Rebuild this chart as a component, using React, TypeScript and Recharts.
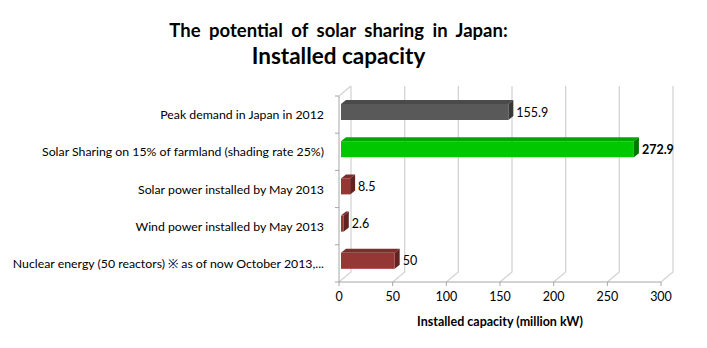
import { BarChart, Bar, XAxis, YAxis, CartesianGrid, Cell, LabelList } from "recharts";

// Installed capacity, million kW
const CATEGORIES = [
  "Peak demand in Japan in 2012",
  "Solar Sharing on 15% of farmland (shading rate 25%)",
  "Solar power installed by May 2013",
  "Wind power installed by May 2013",
  "Nuclear energy (50 reactors) ※ as of now October 2013,...",
];
const VALUES = [155.9, 272.9, 8.5, 2.6, 50];
const X_TICKS = [0, 50, 100, 150, 200, 250, 300];

const TITLE_1 = "The potential of solar sharing in Japan:";
const TITLE_2 = "Installed capacity";
const X_TITLE = "Installed capacity (million kW)";

// which bar gets the bold label
const HIGHLIGHT = 1;

const FONT = "Lato, 'Liberation Sans', sans-serif";

const PALETTE = [
  { front: "#595959", top: "#4a4a4a", side: "#383838" },
  { front: "#00c800", top: "#00a800", side: "#007800" },
  { front: "#953735", top: "#7d2d2b", side: "#612220" },
  { front: "#953735", top: "#7d2d2b", side: "#612220" },
  { front: "#953735", top: "#7d2d2b", side: "#612220" },
];

const data = CATEGORIES.map((name, i) => ({ name, value: VALUES[i] }));

// fake 3D: small offset for the front face, plus top and side faces
const SHIFT_X = 2;
const SHIFT_Y = -3;
const DEPTH_X = 5;
const DEPTH_Y = 4;

function Bar3D(props: any) {
  const { x, y, width, height, index } = props;
  const c = PALETTE[index] ?? PALETTE[0];
  const fx = x + SHIFT_X;
  const fy = y + SHIFT_Y;
  const w = Math.max(width, 0);
  const top = `M${fx},${fy} L${fx + DEPTH_X},${fy - DEPTH_Y} L${fx + w + DEPTH_X},${fy - DEPTH_Y} L${fx + w},${fy} Z`;
  const side = `M${fx + w},${fy} L${fx + w + DEPTH_X},${fy - DEPTH_Y} L${fx + w + DEPTH_X},${fy + height - DEPTH_Y} L${fx + w},${fy + height} Z`;
  return (
    <g>
      <path d={top} fill={c.top} />
      <path d={side} fill={c.side} />
      <rect x={fx} y={fy} width={w} height={height} fill={c.front} />
    </g>
  );
}

function ValueLabel(props: any) {
  const { x, y, width, height, value, index } = props;
  return (
    <text
      x={x + width + SHIFT_X + 8}
      y={y + SHIFT_Y + height / 2}
      dominantBaseline="central"
      fontSize={12.5}
      fontFamily={FONT}
      fontWeight={index === HIGHLIGHT ? 700 : 400}
      fill="#000"
    >
      {value}
    </text>
  );
}

function CategoryTick(props: any) {
  const { x, y, payload } = props;
  return (
    <text x={x} y={y} textAnchor="end" dominantBaseline="central" fontSize={12.3} fontFamily={FONT} fill="#000">
      {payload.value}
    </text>
  );
}

// back-wall grid: slanted foot, then vertical
const WALL_DX = 12;
const WALL_DY = 10;

function WallLine(props: any) {
  const { x1, y1, y2, index } = props;
  const top = Math.min(y1, y2);
  const bottom = Math.max(y1, y2);
  let d = `M${x1},${bottom} L${x1 + WALL_DX},${bottom - WALL_DY} L${x1 + WALL_DX},${top - WALL_DY}`;
  if (index === 0) d += ` M${x1},${top} L${x1 + WALL_DX},${top - WALL_DY}`;
  return <path key={`v-${index}`} d={d} stroke="#d4d4d4" strokeWidth={1.3} fill="none" />;
}

function BoundaryTick(props: any) {
  const { x1, y1, index } = props;
  return <path key={`h-${index}`} d={`M${x1 - 4},${y1} L${x1},${y1}`} stroke="#a6a6a6" strokeWidth={1} />;
}

export default function App() {
  return (
    <div
      style={{
        position: "relative",
        margin: -8,
        width: 705,
        height: 345,
        boxSizing: "border-box",
        border: "1px solid #8a8a8a",
        background: "#fff",
        fontFamily: FONT,
      }}
    >
      <div
        style={{
          position: "absolute",
          left: 0,
          width: 675,
          top: 20,
          textAlign: "center",
          fontWeight: 700,
          color: "#000",
          lineHeight: 1,
        }}
      >
        <div style={{ fontSize: 18.5, wordSpacing: 4 }}>{TITLE_1}</div>
        <div style={{ fontSize: 22.5, marginTop: 5 }}>{TITLE_2}</div>
      </div>
      <div style={{ position: "absolute", left: -1, top: -1 }}>
        <BarChart
          width={705}
          height={345}
          data={data}
          layout="vertical"
          margin={{ top: 96, right: 44, bottom: 17, left: 0 }}
          barSize={16}
        >
          <CartesianGrid
            vertical={WallLine}
            horizontal={BoundaryTick}
            horizontalCoordinatesGenerator={({ offset }: any) =>
              CATEGORIES.map((_, i) => offset.top + ((i + 1) * offset.height) / CATEGORIES.length).concat([offset.top])
            }
          />
          <XAxis
            type="number"
            domain={[0, 300]}
            ticks={X_TICKS}
            height={46}
            tickSize={4}
            tickMargin={6}
            axisLine={{ stroke: "#a6a6a6" }}
            tickLine={{ stroke: "#a6a6a6" }}
            tick={{ fontSize: 12.5, fill: "#000", fontFamily: FONT }}
            label={{
              value: X_TITLE,
              position: "insideBottom",
              offset: 2,
              style: { fontSize: 12.5, fontWeight: 700, fill: "#000", fontFamily: FONT },
            }}
          />
          <YAxis
            type="category"
            dataKey="name"
            width={339}
            tickLine={false}
            tickMargin={9}
            axisLine={{ stroke: "#a6a6a6" }}
            tick={CategoryTick}
            interval={0}
          />
          <Bar dataKey="value" shape={Bar3D} isAnimationActive={false}>
            {data.map((_, i) => (
              <Cell key={i} fill={PALETTE[i].front} />
            ))}
            <LabelList dataKey="value" content={ValueLabel} />
          </Bar>
        </BarChart>
      </div>
    </div>
  );
}
